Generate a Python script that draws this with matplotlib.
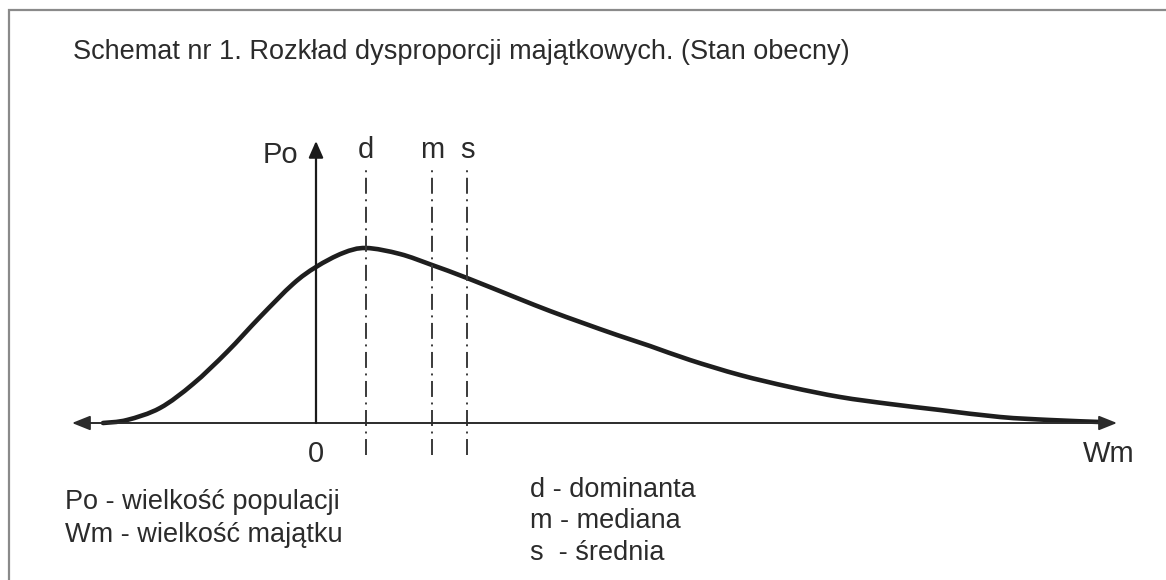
import matplotlib
matplotlib.use("Agg")
import matplotlib.pyplot as plt
from matplotlib.patches import Rectangle, PathPatch
from matplotlib.path import Path

plt.rcParams['font.family'] = ['Liberation Sans', 'DejaVu Sans']
plt.rcParams['lines.scale_dashes'] = False

# krzywa rozkladu (Wm -> Po)
wm = [-4.26, -3.78, -3.12, -2.46, -1.78, -1.12, -0.46, 0.0, 0.54, 1.0,
      1.68, 2.32, 3.02, 4.02, 4.68, 5.34, 6.02, 6.68, 7.48, 8.48, 9.48,
      10.48, 11.48, 12.48, 13.68, 14.68, 15.68]
po = [0.0, 0.06, 0.30, 0.78, 1.42, 2.12, 2.78, 3.12, 3.40, 3.50,
      3.38, 3.16, 2.90, 2.50, 2.24, 2.00, 1.76, 1.54, 1.26, 0.96, 0.72,
      0.52, 0.38, 0.26, 0.12, 0.06, 0.02]

# dominanta, mediana, srednia
marker_names = ['d', 'm', 's']
marker_pos = [1.0, 2.32, 3.02]

title = "Schemat nr 1. Rozkład dysproporcji majątkowych. (Stan obecny)"
legend_left = ["Po - wielkość populacji", "Wm - wielkość majątku"]
legend_right = ["d - dominanta", "m - mediana", "s  - średnia"]

W, H = 1166, 580
txt = '#2b2b2b'


def smooth_path(xs, ys):
    # krzywe Beziera przez punkty (Catmull-Rom), zeby linia nie byla lamana
    pts = list(zip(xs, ys))
    verts = [pts[0]]
    codes = [Path.MOVETO]
    n = len(pts)
    for i in range(n - 1):
        p0 = pts[i - 1] if i > 0 else pts[i]
        p1, p2 = pts[i], pts[i + 1]
        p3 = pts[i + 2] if i + 2 < n else pts[i + 1]
        c1 = (p1[0] + (p2[0] - p0[0]) / 6, p1[1] + (p2[1] - p0[1]) / 6)
        c2 = (p2[0] - (p3[0] - p1[0]) / 6, p2[1] - (p3[1] - p1[1]) / 6)
        verts += [c1, c2, p2]
        codes += [Path.CURVE4] * 3
    return Path(verts, codes)


fig = plt.figure(figsize=(W / 100, H / 100), dpi=100)
ax = fig.add_axes([0, 0, 1, 1])
ax.set_xlim(-6.32, 17.0)
ax.set_ylim(-3.14, 8.46)
ax.axis('off')

# ramka (ucieta z prawej i z dolu)
fig.patches.append(Rectangle((9 / W, -0.1), 2, 1.1 - 10 / H, transform=fig.transFigure,
                             fill=False, ec='#8a8a8a', lw=1.6))

# osie ze strzalkami
ax.annotate('', xy=(16.02, 0), xytext=(-4.88, 0),
            arrowprops=dict(arrowstyle='<|-|>,head_length=0.55,head_width=0.22',
                            mutation_scale=20, color='#2b2b2b', lw=1.4,
                            shrinkA=0, shrinkB=0))
ax.annotate('', xy=(0, 5.64), xytext=(0, 0),
            arrowprops=dict(arrowstyle='-|>,head_length=0.5,head_width=0.22',
                            mutation_scale=20, color='#1a1a1a', lw=1.6,
                            shrinkA=0, shrinkB=0))

# linie d, m, s
for name, xp in zip(marker_names, marker_pos):
    ax.plot([xp, xp], [-0.64, 5.06], color='#3a3a3a', lw=1.4,
            linestyle=(0, (11.5, 4, 1.4, 4)))
    ax.text(xp, 5.3, name, ha='center', va='baseline', fontsize=21, color=txt)

# krzywa
ax.add_patch(PathPatch(smooth_path(wm, po), fill=False, ec='#1e1e1e', lw=3.3,
                       joinstyle='round', capstyle='round'))

ax.text(-0.36, 5.2, 'Po', ha='right', va='baseline', fontsize=21, color=txt)
ax.text(0, -0.78, '0', ha='center', va='baseline', fontsize=21, color=txt)
ax.text(15.34, -0.78, 'Wm', ha='left', va='baseline', fontsize=21, color=txt)

fig.text(73 / W, 1 - 59 / H, title, ha='left', va='baseline', fontsize=19.5, color=txt)
for i, s in enumerate(legend_left):
    fig.text(65 / W, 1 - (509 + 33 * i) / H, s, ha='left', va='baseline',
             fontsize=19.5, color=txt)
for i, s in enumerate(legend_right):
    fig.text(530 / W, 1 - (497 + 31.5 * i) / H, s, ha='left', va='baseline',
             fontsize=19.5, color=txt)

fig.savefig('out.png', dpi=100)
